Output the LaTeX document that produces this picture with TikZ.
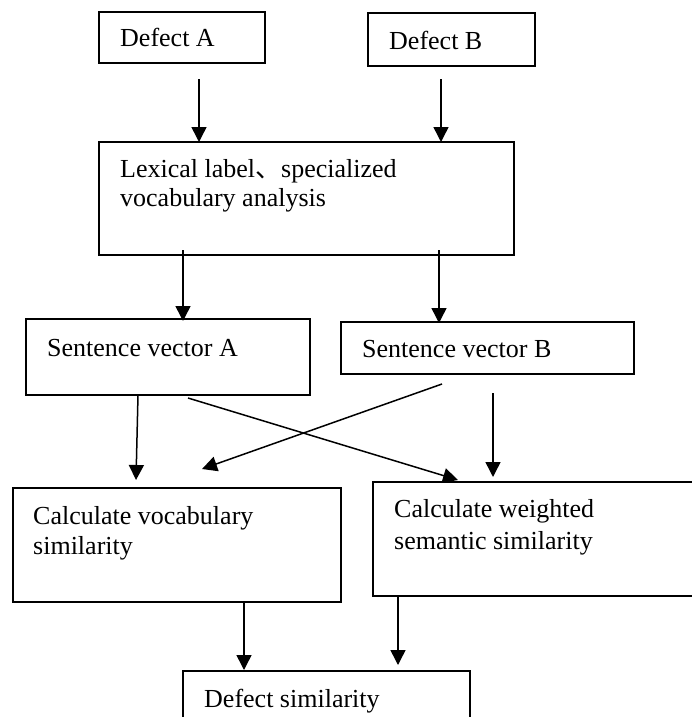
\documentclass[tikz,border=0pt]{standalone}
\usepackage{fontspec}
\setmainfont{Liberation Serif}
\newfontfamily\cjk{Noto Sans CJK SC}
\usetikzlibrary{calc,arrows.meta}
\begin{document}
\begin{tikzpicture}[x=1pt,y=-1pt,
  box/.style={draw, line width=1.5pt, inner sep=0pt, outer sep=0pt, anchor=north west},
  lbl/.style={anchor=base west, inner sep=0pt, font=\fontsize{26}{30}\selectfont},
  arr/.style={line width=1.5pt, -{Triangle[length=15pt,width=15pt]}}]
\fill[white] (0,0) rectangle (692,717);
\clip (0,0) rectangle (692,717);
% boxes
\node[box, minimum width=166pt, minimum height=51pt] (da) at (99,12) {};
\node[box, minimum width=167pt, minimum height=53pt] (db) at (368,13) {};
\node[box, minimum width=415pt, minimum height=113pt] (lex) at (99,142) {};
\node[box, minimum width=284pt, minimum height=76pt] (sva) at (26,319) {};
\node[box, minimum width=293pt, minimum height=52pt] (svb) at (341,322) {};
\node[box, minimum width=328pt, minimum height=114pt] (cv) at (13,488) {};
\node[box, minimum width=330pt, minimum height=114pt] (cw) at (373,482) {};
\node[box, minimum width=287pt, minimum height=80pt] (ds) at (183,671) {};
% labels
\node[lbl] (tda) at ($(da.north west)+(21,35)$) {Defect A};
\node[lbl] (tdb) at ($(db.north west)+(21,36)$) {Defect B};
\node[lbl] (tlex1) at ($(lex.north west)+(21,35)$) {Lexical label{\cjk 、}specialized};
\node[lbl] (tlex2) at ($(lex.north west)+(21,64)$) {vocabulary analysis};
\node[lbl] (tsva) at ($(sva.north west)+(21,37)$) {Sentence vector A};
\node[lbl] (tsvb) at ($(svb.north west)+(21,35)$) {Sentence vector B};
\node[lbl] (tcv1) at ($(cv.north west)+(20,36)$) {Calculate vocabulary};
\node[lbl] (tcv2) at ($(cv.north west)+(20,66)$) {similarity};
\node[lbl] (tcw1) at ($(cw.north west)+(21,35)$) {Calculate weighted};
\node[lbl] (tcw2) at ($(cw.north west)+(21,67)$) {semantic similarity};
\node[lbl] (tds) at ($(ds.north west)+(21,36)$) {Defect similarity};
% connectors
\draw[arr] ($(da.south west)+(100,16)$) -- ($(lex.north west)+(100,0)$);
\draw[arr] ($(db.south west)+(73,13)$) -- ($(lex.north west)+(342,0)$);
\draw[arr] ($(lex.south west)+(84,-5)$) -- ($(sva.north west)+(157,2)$);
\draw[arr] ($(lex.south west)+(340,-5)$) -- ($(svb.north west)+(98,1)$);
\draw[arr] ($(sva.south west)+(112,0)$) -- ($(cv.north west)+(123,-8)$);
\draw[arr] ($(svb.south west)+(101,10)$) -- ($(cv.north west)+(189,-19)$);
\draw[arr] ($(sva.south west)+(162,3)$) -- ($(cw.north west)+(85,-2)$);
\draw[arr] ($(svb.south west)+(152,19)$) -- ($(cw.north west)+(120,-5)$);
\draw[arr] ($(cv.south west)+(231,0)$) -- ($(ds.north west)+(61,-1)$);
\draw[arr] ($(cw.south west)+(25,0)$) -- ($(ds.north west)+(215,-6)$);
\end{tikzpicture}
\end{document}
